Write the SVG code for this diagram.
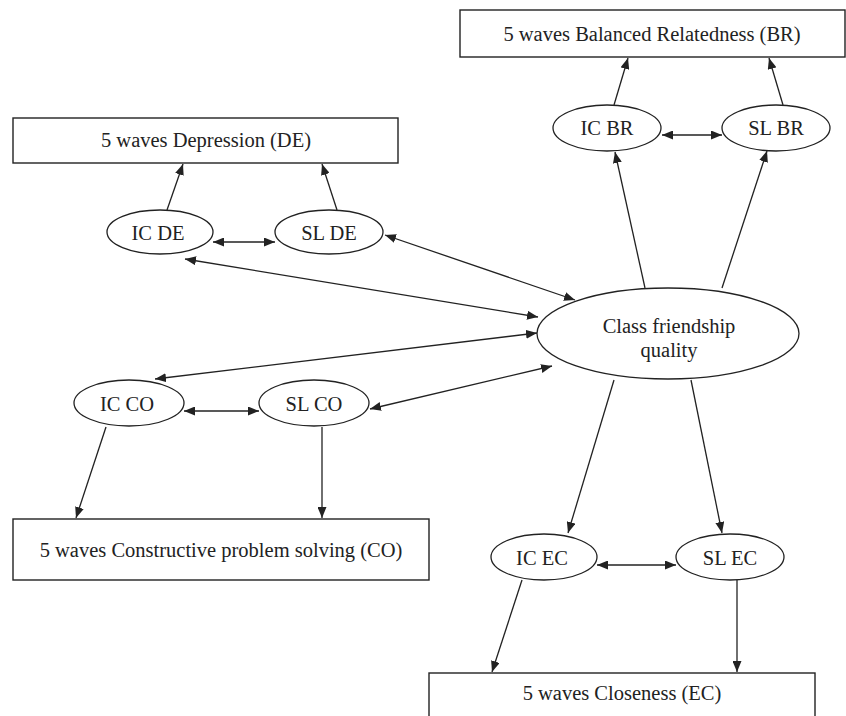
<svg xmlns="http://www.w3.org/2000/svg" width="846" height="716" viewBox="0 0 846 716">
<style>
.box{fill:#fff;stroke:#222;stroke-width:1.4}
.ell{fill:#fff;stroke:#222;stroke-width:1.3}
.t{font-family:"Liberation Serif","Times New Roman",serif;font-size:20.5px;fill:#222;text-anchor:middle}
.c{stroke:#222;stroke-width:1.3;fill:none;marker-end:url(#ah)}
.d{marker-start:url(#ah)}
</style>
<defs>
<marker id="ah" markerUnits="userSpaceOnUse" markerWidth="12" markerHeight="9" refX="11" refY="4.5" orient="auto-start-reverse">
<path d="M0,0 L11,4.5 L0,9 z" fill="#222"/>
</marker>
</defs>
<rect width="846" height="716" fill="#fff"/>
<g id="connectors">
<line class="c" x1="167" y1="210" x2="183" y2="164"/>
<line class="c" x1="337" y1="210" x2="322" y2="164"/>
<line class="c d" x1="213" y1="242" x2="275" y2="242"/>
<line class="c d" x1="385" y1="235" x2="575" y2="300"/>
<line class="c d" x1="185" y1="259" x2="538" y2="317"/>
<line class="c d" x1="537" y1="333" x2="155" y2="379"/>
<line class="c d" x1="370" y1="409" x2="552" y2="366"/>
<line class="c d" x1="184" y1="411" x2="259" y2="411"/>
<line class="c" x1="106" y1="427" x2="76" y2="518"/>
<line class="c" x1="322" y1="427" x2="322" y2="518"/>
<line class="c" x1="645" y1="288" x2="615" y2="152"/>
<line class="c" x1="722" y1="288" x2="767" y2="151"/>
<line class="c" x1="614" y1="105" x2="628" y2="58"/>
<line class="c" x1="783" y1="105" x2="769" y2="58"/>
<line class="c d" x1="662" y1="135" x2="722" y2="135"/>
<line class="c" x1="614" y1="380" x2="568" y2="533"/>
<line class="c" x1="691" y1="380" x2="722" y2="533"/>
<line class="c d" x1="597" y1="565" x2="676" y2="565"/>
<line class="c" x1="522" y1="580" x2="492" y2="672"/>
<line class="c" x1="737" y1="580" x2="737" y2="672"/>
</g>
<g id="BR"><rect class="box" x="460" y="10" width="385" height="47"/><text class="t" x="652" y="41">5 waves Balanced Relatedness (BR)</text></g>
<g id="DE"><rect class="box" x="13" y="118" width="385" height="45"/><text class="t" x="206" y="147">5 waves Depression (DE)</text></g>
<g id="CO"><rect class="box" x="13" y="519" width="416" height="61"/><text class="t" x="221" y="557">5 waves Constructive problem solving (CO)</text></g>
<g id="EC"><rect class="box" x="429" y="673" width="386" height="60"/><text class="t" x="622" y="700">5 waves Closeness (EC)</text></g>
<g id="ICBR"><ellipse class="ell" cx="607" cy="128" rx="54" ry="23"/><text class="t" x="607" y="135">IC BR</text></g>
<g id="SLBR"><ellipse class="ell" cx="776" cy="128" rx="54" ry="23"/><text class="t" x="776" y="135">SL BR</text></g>
<g id="ICDE"><ellipse class="ell" cx="160" cy="232" rx="53" ry="22"/><text class="t" x="158" y="240">IC DE</text></g>
<g id="SLDE"><ellipse class="ell" cx="329" cy="232" rx="54" ry="22"/><text class="t" x="329" y="240">SL DE</text></g>
<g id="CFQ"><ellipse class="ell" cx="668" cy="333.5" rx="131" ry="45.5"/><text class="t" x="669" y="333">Class friendship</text><text class="t" x="669" y="357">quality</text></g>
<g id="ICCO"><ellipse class="ell" cx="129" cy="403" rx="55" ry="23"/><text class="t" x="127" y="411">IC CO</text></g>
<g id="SLCO"><ellipse class="ell" cx="314" cy="403" rx="55" ry="23"/><text class="t" x="314" y="411">SL CO</text></g>
<g id="ICEC"><ellipse class="ell" cx="544" cy="557" rx="53" ry="23"/><text class="t" x="542" y="565">IC EC</text></g>
<g id="SLEC"><ellipse class="ell" cx="730" cy="557" rx="54" ry="23"/><text class="t" x="730" y="565">SL EC</text></g>
</svg>
